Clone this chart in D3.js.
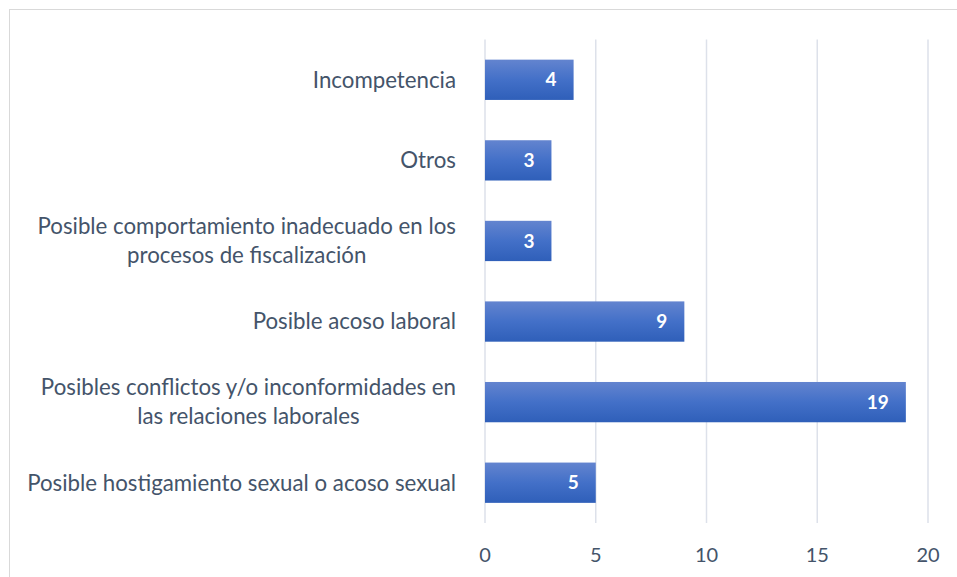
<!DOCTYPE html>
<html>
<head>
<meta charset="utf-8">
<script src="https://cdn.jsdelivr.net/npm/d3@7"></script>
<style>
  body { margin: 0; background: #fff; }
  svg { display: block; }
</style>
</head>
<body>
<svg id="chart" width="957" height="577"></svg>
<script>
// categories, top to bottom
const categories = [
  ["Incompetencia"],
  ["Otros"],
  ["Posible comportamiento inadecuado en los", "procesos de fiscalización"],
  ["Posible acoso laboral"],
  ["Posibles conflictos y/o inconformidades en", "las relaciones laborales"],
  ["Posible hostigamiento sexual o acoso sexual"]
];
const values = [4, 3, 3, 9, 19, 5];
const xTicks = [0, 5, 10, 15, 20];

const svg = d3.select("#chart");
const textColor = "#44546a";
const fontFam = "Lato, 'Noto Sans', sans-serif";

// chart border
svg.append("rect")
  .attr("x", 9.5).attr("y", 9.5)
  .attr("width", 960).attr("height", 580)
  .attr("fill", "none")
  .attr("stroke", "#d9d9d9");

const margin = { top: 39.5, left: 485, right: 29, bottom: 54 };
const innerW = 957 - margin.left - margin.right;
const innerH = 577 - margin.top - margin.bottom;

const g = svg.append("g").attr("transform", `translate(${margin.left},${margin.top})`);

const x = d3.scaleLinear().domain([0, 20]).range([0, innerW]);
const y = d3.scaleBand()
  .domain(d3.range(categories.length))
  .range([0, innerH])
  .paddingInner(0.5)
  .paddingOuter(0.25);

// gradient for bars
const grad = svg.append("defs").append("linearGradient")
  .attr("id", "barGrad").attr("x1", 0).attr("y1", 0).attr("x2", 0).attr("y2", 1);
grad.append("stop").attr("offset", "0%").attr("stop-color", "#6384cf");
grad.append("stop").attr("offset", "50%").attr("stop-color", "#4370c8");
grad.append("stop").attr("offset", "100%").attr("stop-color", "#2f5fb9");

// vertical grid
g.selectAll(".grid")
  .data(xTicks)
  .enter()
  .append("line")
  .attr("class", "grid")
  .attr("x1", (d) => x(d)).attr("x2", (d) => x(d))
  .attr("y1", 0).attr("y2", innerH)
  .attr("stroke", "#dde1ea")
  .attr("stroke-width", 1.5);

// bars
g.selectAll(".bar")
  .data(values)
  .enter()
  .append("rect")
  .attr("class", "bar")
  .attr("x", x(0))
  .attr("y", (d, i) => y(i))
  .attr("width", (d) => x(d) - x(0))
  .attr("height", y.bandwidth())
  .attr("fill", "url(#barGrad)");

// value labels
g.selectAll(".val")
  .data(values)
  .enter()
  .append("text")
  .attr("class", "val")
  .attr("x", (d) => x(d) - 17)
  .attr("y", (d, i) => y(i) + y.bandwidth() / 2)
  .attr("dy", "0.35em")
  .attr("text-anchor", "end")
  .attr("fill", "#fff")
  .attr("font-family", fontFam)
  .attr("font-weight", "bold")
  .attr("font-size", 19)
  .text((d) => d);

// x tick labels
g.selectAll(".tick-label")
  .data(xTicks)
  .enter()
  .append("text")
  .attr("class", "tick-label")
  .attr("x", (d) => x(d))
  .attr("y", innerH + 32)
  .attr("dy", "0.35em")
  .attr("text-anchor", "middle")
  .attr("fill", textColor)
  .attr("font-family", fontFam)
  .attr("font-size", 20)
  .text((d) => d);

// category labels (multi-line blocks, right-aligned, lines centred)
const labelRight = 456;
const longest = 429; // width of the widest label line in the reference
const lineGap = 29;
const cats = svg.append("g")
  .attr("font-family", fontFam)
  .attr("fill", textColor);

// size the font so the longest line matches the reference width
const probe = cats.append("text").attr("font-size", 20)
  .text("Posible hostigamiento sexual o acoso sexual");
const catFont = 20 * longest / probe.node().getComputedTextLength();
probe.remove();

categories.forEach((lines, i) => {
  const cy = margin.top + y(i) + y.bandwidth() / 2;
  const grp = cats.append("g");
  const texts = lines.map((ln, k) =>
    grp.append("text")
      .attr("y", cy + (k - (lines.length - 1) / 2) * lineGap)
      .attr("dy", "0.35em")
      .attr("text-anchor", "middle")
      .attr("font-size", catFont)
      .text(ln)
  );
  const w = d3.max(texts, (t) => t.node().getComputedTextLength());
  texts.forEach((t) => t.attr("x", labelRight - w / 2));
});
</script>
</body>
</html>
